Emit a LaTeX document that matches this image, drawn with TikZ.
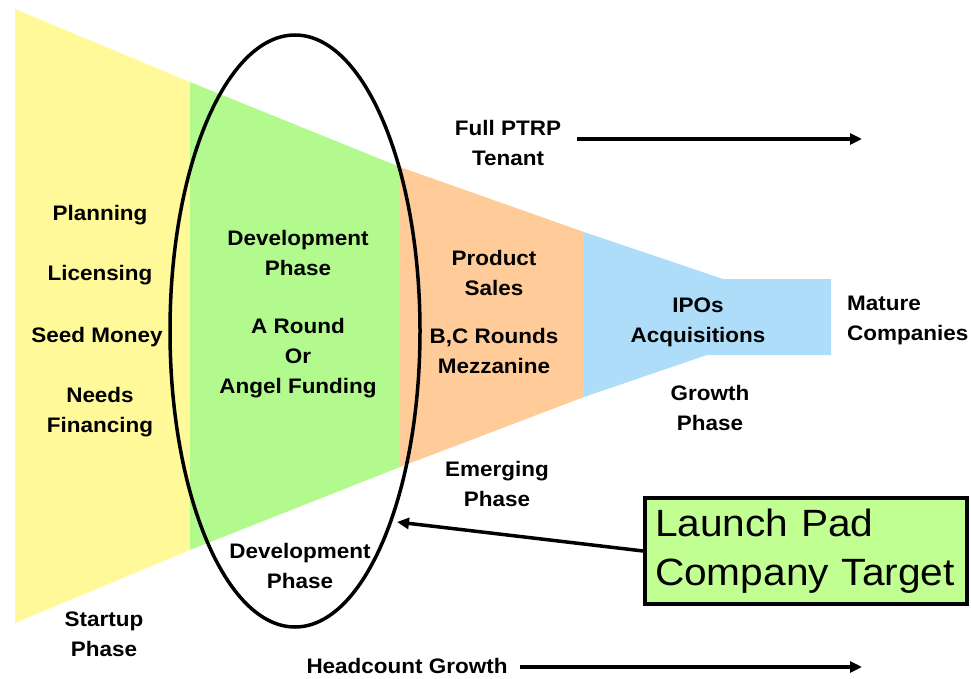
\documentclass[tikz,border=0pt]{standalone}
\usepackage{fontspec}
\setmainfont{Liberation Sans}[FakeStretch=1.07]
\usetikzlibrary{arrows.meta}
\definecolor{cyellow}{HTML}{FFF99A}
\definecolor{cgreen}{HTML}{B2FA8E}
\definecolor{corange}{HTML}{FFCC99}
\definecolor{cblue}{HTML}{AEDDFA}
\definecolor{cbox}{HTML}{C2FF92}
\tikzset{
  lbl/.style={align=center, inner sep=0pt, font=\fontsize{21}{30}\selectfont\bfseries},
  flow/.style={line width=3.5pt, -{Triangle[length=12pt,width=11pt]}},
  target/.style={draw=black, line width=3.5pt, fill=cbox, align=left,
    minimum width=322pt, minimum height=106pt, inner sep=0pt, text width=302pt,
    font=\fontsize{38}{49}\selectfont}
}
\begin{document}
\begin{tikzpicture}[x=1pt,y=-1pt]
\useasboundingbox (0,0) rectangle (971,679);
% funnel segments
\fill[cyellow] (15,9) -- (190,82) -- (190,550) -- (15,623) -- cycle;
\fill[cgreen] (190,82) -- (400,167) -- (400,467) -- (190,550) -- cycle;
\fill[corange] (400,167) -- (584,232) -- (584,397) -- (400,467) -- cycle;
\fill[cblue] (584,232) -- (723,279) -- (831,279) -- (831,355) -- (707,355) -- (584,397) -- cycle;
% ellipse
\draw[line width=3.5pt] (295,331) ellipse [x radius=125, y radius=296];
\coordinate (ell) at (397,522);
% labels
\node[lbl] (plan) at (100,215) {Planning};
\node[lbl] (lic) at (100,275) {Licensing};
\node[lbl] (seed) at (97,337) {Seed Money};
\node[lbl] (needs) at (100,412) {Needs\\Financing};
\node[lbl] (devph) at (298,253) {Development\\Phase};
\node[lbl] (around) at (298,358) {A Round\\Or\\Angel Funding};
\node[lbl] (prod) at (494,273) {Product\\Sales};
\node[lbl] (bc) at (494,351) {B,C Rounds\\Mezzanine};
\node[lbl] (ipo) at (698,322) {IPOs\\Acquisitions};
\node[lbl, align=left, anchor=west] (mature) at (847,320) {Mature\\Companies};
\node[lbl] (growth) at (710,408) {Growth\\Phase};
\node[lbl] (emerg) at (497,484) {Emerging\\Phase};
\node[lbl] (devbot) at (300,566) {Development\\Phase};
\node[lbl] (startup) at (104,634) {Startup\\Phase};
\node[lbl] (ptrp) at (508,143) {Full PTRP\\Tenant};
\node[lbl] (head) at (407,666) {Headcount Growth};
% arrows
\coordinate (ptrpend) at (862,139);
\coordinate (headend) at (862,667);
\draw[flow] (577,139) -- (ptrpend);
\draw[flow] (520,667) -- (headend);
% target box
\node[target] (box) at (806,551) {Launch Pad\\Company Target};
\draw[flow] (box.west) -- (ell);
\end{tikzpicture}
\end{document}
